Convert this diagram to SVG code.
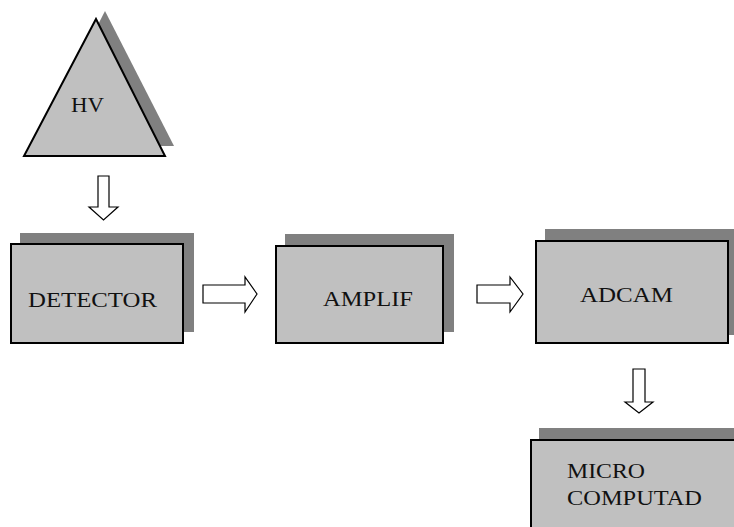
<svg xmlns="http://www.w3.org/2000/svg" width="734" height="527" viewBox="0 0 734 527">
<style>
.shadow{fill:#808080;stroke:none}
.box{fill:#c0c0c0;stroke:#000;stroke-width:2}
.arrow{fill:#fff;stroke:#000;stroke-width:1.2;stroke-linejoin:miter}
.lbl{font-family:"Liberation Serif","Times New Roman",serif;font-size:21px;fill:#111}
</style>
<rect width="734" height="527" fill="#fff"/>
<g id="hv">
<polygon class="shadow" points="105,11 174,146 36,146"/>
<polygon class="box" points="96,19 165,156 24,156" stroke-width="1.6"/>
<text class="lbl" x="71" y="112" font-size="19" textLength="33" lengthAdjust="spacingAndGlyphs">HV</text>
</g>
<g id="detector">
<rect class="shadow" x="20" y="233" width="174" height="99"/>
<rect class="box" x="11" y="244" width="172" height="99"/>
<text class="lbl" x="28" y="307" textLength="129" lengthAdjust="spacingAndGlyphs">DETECTOR</text>
</g>
<g id="amplif">
<rect class="shadow" x="285" y="234" width="169" height="98"/>
<rect class="box" x="276" y="246" width="167" height="97"/>
<text class="lbl" x="323" y="306" textLength="90" lengthAdjust="spacingAndGlyphs">AMPLIF</text>
</g>
<g id="adcam">
<rect class="shadow" x="545" y="229" width="189" height="106"/>
<rect class="box" x="536" y="241" width="192" height="102"/>
<text class="lbl" x="580" y="302" textLength="93" lengthAdjust="spacingAndGlyphs">ADCAM</text>
</g>
<g id="micro">
<rect class="shadow" x="539" y="428" width="195" height="99"/>
<rect class="box" x="531" y="440" width="210" height="100"/>
<text class="lbl" x="567" y="478" textLength="78" lengthAdjust="spacingAndGlyphs">MICRO</text>
<text class="lbl" x="567" y="505" textLength="135" lengthAdjust="spacingAndGlyphs">COMPUTAD</text>
</g>
<g id="connectors">
<polygon class="arrow" points="98,176 109,176 109,207 118,207 103.5,220 89,207 98,207"/>
<polygon class="arrow" points="203,285 245,285 245,277 257,294 245,312 245,303 203,303"/>
<polygon class="arrow" points="477,285 510,285 510,277 523,294 510,312 510,303 477,303"/>
<polygon class="arrow" points="633,369 645,369 645,402 653,402 639,413 625,402 633,402"/>
</g>
</svg>
